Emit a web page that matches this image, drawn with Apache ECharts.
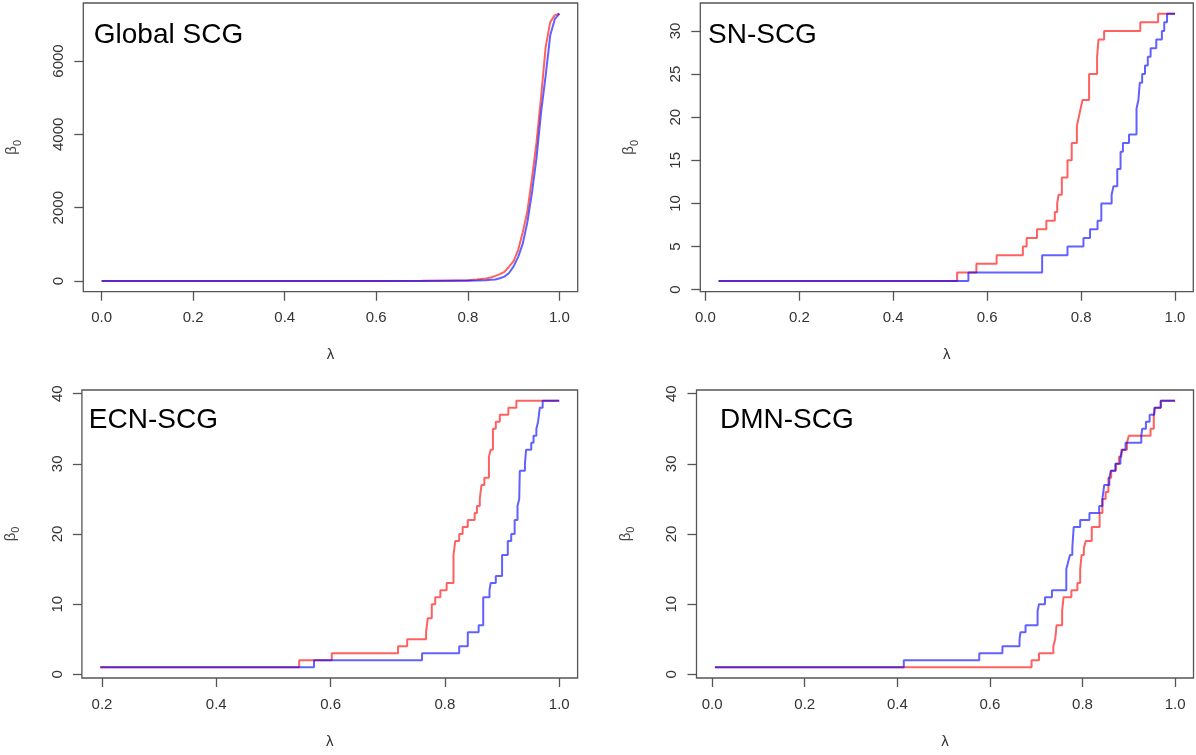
<!DOCTYPE html>
<html>
<head>
<meta charset="utf-8">
<script src="https://cdn.jsdelivr.net/npm/echarts@6/dist/echarts.min.js"></script>
<style>
html,body{margin:0;padding:0;background:#fff;}
#chart{width:1196px;height:755px;}
</style>
</head>
<body>
<div id="chart"></div>
<script>
// ---------------- DATA ----------------
const panelTitles = ['Global SCG', 'SN-SCG', 'ECN-SCG', 'DMN-SCG'];
const xTickLabels = [[0, 0.2, 0.4, 0.6, 0.8, 1.0], [0, 0.2, 0.4, 0.6, 0.8, 1.0], [0.2, 0.4, 0.6, 0.8, 1.0], [0, 0.2, 0.4, 0.6, 0.8, 1.0]];
const yTickLabels = [[0, 2000, 4000, 6000], [0, 5, 10, 15, 20, 25, 30], [0, 10, 20, 30, 40], [0, 10, 20, 30, 40]];

// Global SCG (smooth curves)
const globalRedLambda = [0, 0.1, 0.2, 0.3, 0.4, 0.5, 0.6, 0.7, 0.75, 0.8, 0.82, 0.84, 0.85, 0.86, 0.87, 0.88, 0.89, 0.90, 0.91, 0.92, 0.93, 0.94, 0.95, 0.96, 0.97, 0.98, 0.99, 1.0];
const globalRedBeta   = [1, 1, 1, 1, 1, 2, 3, 6, 10, 20, 40, 70, 95, 140, 190, 250, 390, 545, 850, 1330, 1900, 2800, 3780, 5020, 6380, 7060, 7250, 7290];
const globalBlueLambda = [0, 0.1, 0.2, 0.3, 0.4, 0.5, 0.6, 0.7, 0.75, 0.8, 0.82, 0.84, 0.85, 0.86, 0.87, 0.88, 0.89, 0.90, 0.91, 0.92, 0.93, 0.94, 0.95, 0.96, 0.97, 0.98, 0.99, 1.0];
const globalBlueBeta   = [1, 1, 1, 1, 1, 1, 2, 4, 6, 10, 15, 25, 32, 40, 75, 120, 220, 400, 660, 1020, 1600, 2400, 3350, 4600, 5600, 6700, 7140, 7290];

// SN-SCG (step curves)
const snRedLambda = [0.028, 0.536, 0.577, 0.620, 0.676, 0.684, 0.706, 0.726, 0.744, 0.749, 0.752, 0.759, 0.771, 0.780, 0.791, 0.795, 0.799, 0.803, 0.817, 0.834, 0.837, 0.849, 0.926, 0.964, 1.0];
const snRedBeta   = [1, 2, 3, 4, 5, 6, 7, 8, 9, 10, 11, 13, 15, 17, 19, 20, 21, 22, 25, 27, 29, 30, 31, 32, 32];
const snBlueLambda = [0.028, 0.560, 0.717, 0.771, 0.805, 0.819, 0.835, 0.843, 0.865, 0.869, 0.877, 0.884, 0.889, 0.902, 0.918, 0.922, 0.925, 0.930, 0.936, 0.942, 0.948, 0.960, 0.972, 0.977, 0.983, 1.0];
const snBlueBeta   = [1, 2, 4, 5, 6, 7, 8, 10, 11, 12, 14, 16, 17, 18, 21, 22, 24, 25, 26, 27, 28, 29, 30, 31, 32, 32];

// ECN-SCG
const ecnRedLambda = [0.197, 0.545, 0.602, 0.718, 0.734, 0.767, 0.770, 0.777, 0.783, 0.792, 0.803, 0.815, 0.818, 0.825, 0.831, 0.840, 0.852, 0.856, 0.861, 0.864, 0.869, 0.877, 0.880, 0.884, 0.889, 0.896, 0.911, 0.925, 1.0];
const ecnRedBeta   = [1, 2, 3, 4, 5, 6, 8, 10, 11, 12, 13, 17, 19, 20, 21, 22, 23, 24, 25, 27, 28, 31, 32, 35, 36, 37, 38, 39, 39];
const ecnBlueLambda = [0.197, 0.571, 0.760, 0.825, 0.840, 0.859, 0.867, 0.878, 0.880, 0.889, 0.900, 0.910, 0.916, 0.922, 0.927, 0.930, 0.931, 0.940, 0.942, 0.951, 0.955, 0.960, 0.963, 0.966, 0.971, 1.0];
const ecnBlueBeta   = [1, 2, 3, 4, 6, 7, 11, 12, 13, 14, 17, 19, 20, 22, 24, 25, 29, 30, 32, 33, 34, 35, 36, 38, 39, 39];

// DMN-SCG
const dmnRedLambda = [0.006, 0.690, 0.706, 0.737, 0.741, 0.744, 0.756, 0.759, 0.776, 0.789, 0.795, 0.798, 0.803, 0.807, 0.820, 0.837, 0.843, 0.850, 0.856, 0.862, 0.872, 0.879, 0.884, 0.896, 0.900, 0.947, 0.954, 0.957, 0.969, 1.0];
const dmnRedBeta   = [1, 2, 3, 4, 5, 7, 9, 11, 12, 13, 15, 17, 18, 19, 21, 23, 25, 26, 28, 29, 30, 31, 32, 33, 34, 35, 37, 38, 39, 39];
const dmnBlueLambda = [0.006, 0.414, 0.577, 0.627, 0.664, 0.666, 0.677, 0.703, 0.706, 0.719, 0.734, 0.765, 0.769, 0.773, 0.778, 0.781, 0.795, 0.815, 0.836, 0.843, 0.847, 0.858, 0.861, 0.871, 0.882, 0.886, 0.893, 0.927, 0.929, 0.937, 0.945, 0.955, 0.969, 1.0];
const dmnBlueBeta   = [1, 2, 3, 4, 5, 6, 7, 9, 10, 11, 12, 15, 16, 17, 18, 21, 22, 23, 24, 25, 27, 28, 29, 30, 31, 32, 33, 34, 35, 36, 37, 38, 39, 39];

// ---------------- LAYOUT ----------------
const FONT = 'Liberation Sans, Arial, Helvetica, DejaVu Sans, sans-serif';
const boxes = [
  {l: 83.3, r: 577.7, t: 3, b: 291.7},
  {l: 700.3, r: 1193.3, t: 3, b: 291.7},
  {l: 81.9, r: 577.6, t: 390, b: 678},
  {l: 696.5, r: 1193.5, t: 390, b: 678}
];
const titlePos = [[93.8, 35], [708, 35], [88.8, 420.5], [720, 420.5]];

function zip(a, b) { return a.map((v, i) => [v, b[i]]); }
function ext(lo, hi) { const d = (hi - lo) * 0.04; return [lo - d, hi + d]; }

const panels = [
  {red: zip(globalRedLambda, globalRedBeta), blue: zip(globalBlueLambda, globalBlueBeta), step: false},
  {red: zip(snRedLambda, snRedBeta), blue: zip(snBlueLambda, snBlueBeta), step: 'end'},
  {red: zip(ecnRedLambda, ecnRedBeta), blue: zip(ecnBlueLambda, ecnBlueBeta), step: 'end'},
  {red: zip(dmnRedLambda, dmnRedBeta), blue: zip(dmnBlueLambda, dmnBlueBeta), step: 'end'}
];

const grid = [], xAxis = [], yAxis = [], series = [], graphic = [];
panels.forEach((p, i) => {
  const all = p.red.concat(p.blue);
  const xs = all.map(d => d[0]), ys = all.map(d => d[1]);
  const xr = ext(Math.min(...xs), Math.max(...xs));
  const yr = ext(Math.min(...ys), Math.max(...ys));
  const bx = boxes[i];
  grid.push({left: bx.l, top: bx.t, width: bx.r - bx.l, height: bx.b - bx.t,
    show: true, borderColor: '#555', borderWidth: 1.3, backgroundColor: 'transparent'});
  xAxis.push({type: 'value', gridIndex: i, min: xr[0], max: xr[1], position: 'bottom',
    axisLine: {show: false, onZero: false}, splitLine: {show: false},
    axisTick: {show: true, inside: false, length: 9, customValues: xTickLabels[i], lineStyle: {color: '#555', width: 1.3}},
    axisLabel: {customValues: xTickLabels[i], formatter: v => Number(v).toFixed(1), fontSize: 15, color: '#333', fontFamily: FONT, margin: 19},
    name: 'λ', nameLocation: 'middle', nameGap: 56,
    nameTextStyle: {fontSize: 15, color: '#333', fontFamily: FONT}
  });
  yAxis.push({type: 'value', gridIndex: i, min: yr[0], max: yr[1], position: 'left',
    axisLine: {show: false, onZero: false}, splitLine: {show: false},
    axisTick: {show: true, inside: false, length: 9, customValues: yTickLabels[i], lineStyle: {color: '#555', width: 1.3}},
    axisLabel: {customValues: yTickLabels[i], rotate: 90, formatter: v => String(v), fontSize: 15, color: '#333', fontFamily: FONT, margin: 17},
    name: '{a|β}{b|0}', nameLocation: 'middle', nameGap: 60, nameRotate: 90,
    nameTextStyle: {fontFamily: FONT, color: '#444',
      rich: {a: {fontSize: 15, fontFamily: FONT, color: '#444', lineHeight: 22, verticalAlign: 'middle'},
             b: {fontSize: 11, fontFamily: FONT, color: '#444', lineHeight: 22, verticalAlign: 'bottom'}}}
  });
  series.push({type: 'line', xAxisIndex: i, yAxisIndex: i, data: p.red, step: p.step,
    showSymbol: false, symbol: 'none', lineStyle: {color: 'rgba(255,0,0,0.62)', width: 2}, animation: false, silent: true});
  series.push({type: 'line', xAxisIndex: i, yAxisIndex: i, data: p.blue, step: p.step,
    showSymbol: false, symbol: 'none', lineStyle: {color: 'rgba(0,0,255,0.62)', width: 2}, animation: false, silent: true});
  graphic.push({type: 'text', x: titlePos[i][0], y: titlePos[i][1],
    style: {text: panelTitles[i], fontSize: 28, fontFamily: FONT, fill: '#000', align: 'left', verticalAlign: 'middle'}});
});

const chart = echarts.init(document.getElementById('chart'), null, {renderer: 'canvas'});
chart.setOption({backgroundColor: '#fff', animation: false, grid, xAxis, yAxis, series, graphic});
</script>
</body>
</html>
